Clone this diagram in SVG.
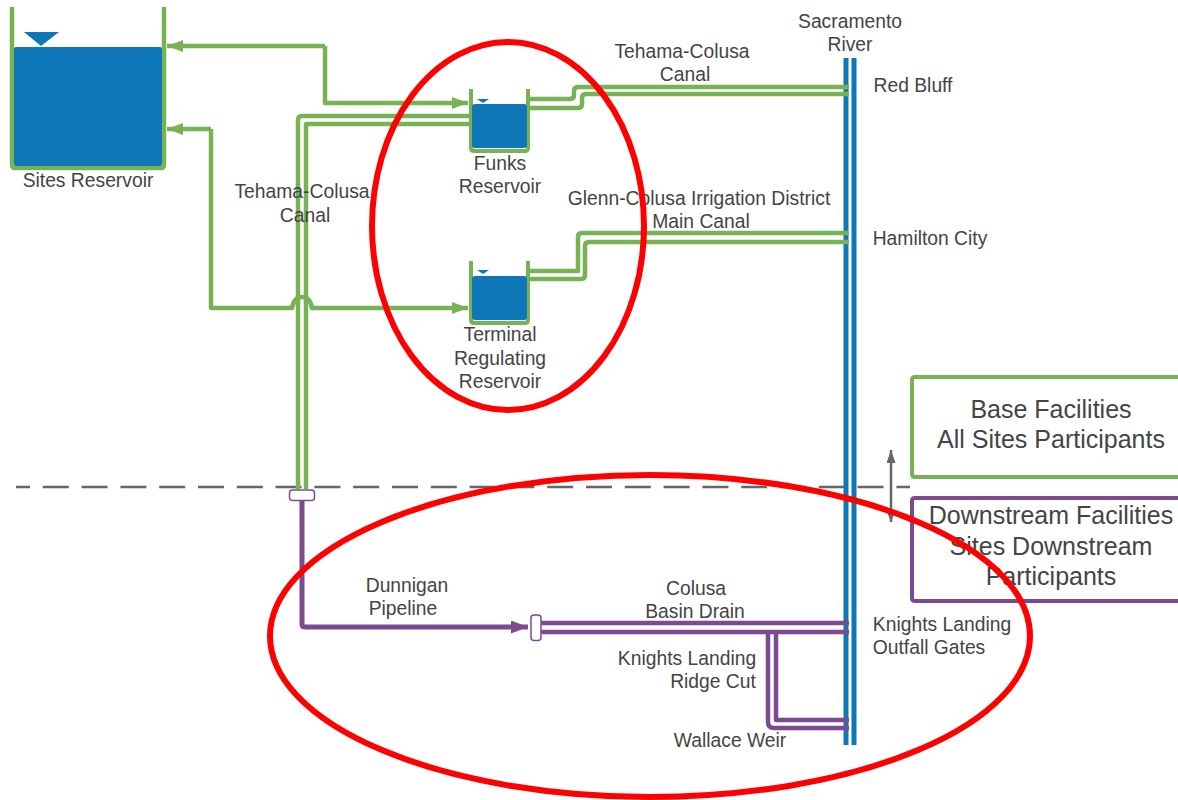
<svg xmlns="http://www.w3.org/2000/svg" width="1178" height="800" viewBox="0 0 1178 800">
<style>
text{font-family:"Liberation Sans",Arial,sans-serif;fill:#444;text-anchor:middle}
.t{font-size:19.300px}
.b{font-size:25px}
.g{fill:none;stroke:#77b255;stroke-width:4.500;stroke-linejoin:round}
.p{fill:none;stroke:#7d4a8f;stroke-width:4.500;stroke-linejoin:round}
.r{fill:none;stroke:#0e77b7;stroke-width:5}
.e{fill:none;stroke:#f00;stroke-width:6}
.w{fill:#0e77b7}
</style>
<defs>
<marker id="ag" markerUnits="userSpaceOnUse" markerWidth="16" markerHeight="12" refX="16" refY="6" orient="auto"><path d="M0 0L16 6L0 12z" fill="#77b255"/></marker>
<marker id="ap" markerUnits="userSpaceOnUse" markerWidth="17" markerHeight="13" refX="17" refY="6.500" orient="auto"><path d="M0 0L17 6.500L0 13z" fill="#7d4a8f"/></marker>
<marker id="ak" markerUnits="userSpaceOnUse" markerWidth="13" markerHeight="9" refX="13" refY="4.500" orient="auto"><path d="M0 0L13 4.500L0 9z" fill="#666"/></marker>
</defs>
<g id="divider"><path d="M16 487H910" fill="none" stroke="#666" stroke-width="2.500" stroke-dasharray="26 12.800" stroke-dashoffset="12"/></g>
<g id="river"><path class="r" d="M846 58V745M854 58V745"/><text class="t" x="850" y="28">Sacramento</text><text class="t" x="850" y="51">River</text></g>
<g id="connectors">
<path class="g" d="M325 46H167" marker-end="url(#ag)"/>
<path class="g" d="M325 46V103H468" marker-end="url(#ag)"/>
<path class="g" d="M211 129H167" marker-end="url(#ag)"/>
<path class="g" d="M211 129V308H292Q294 297 302 297Q310 297 312 308H468" marker-end="url(#ag)"/>
<path class="g" d="M298 489V120Q298 116 302 116H470M306 489V124H470"/>
<path class="g" d="M530 99H570Q574 99 574 95V91Q574 87 578 87H849M530 108H578Q582 108 582 104V98Q582 94 586 94H849"/>
<path class="g" d="M530 271H578V237Q578 233 582 233H849M530 279H581Q585 279 585 275V246Q585 242 589 242H849"/>
<path class="p" d="M302 500V624Q302 627 305 627H528" style="stroke-width:5" marker-end="url(#ap)"/>
<path class="p" d="M541 623H849M541 632H849"/>
<path class="p" d="M768 630V722Q768 728 774 728H849M776 630V720H849"/>
<path d="M891 522V450" fill="none" stroke="#666" stroke-width="2.500" marker-end="url(#ak)"/>
<path d="M887 512L891 522L895 512z" fill="#666"/>
</g>
<g id="sites-reservoir">
<path class="g" d="M12 7V165Q12 168 15 168H161Q164 168 164 165V7"/>
<rect class="w" x="14" y="47" width="148" height="119" rx="2"/>
<path class="w" d="M24 32H59L41 46z"/>
<text class="t" x="88" y="187">Sites Reservoir</text>
</g>
<g id="funks-reservoir">
<path class="g" d="M471 89V148Q471 151 474 151H525Q528 151 528 148V89" style="stroke-width:4"/>
<rect class="w" x="472" y="104" width="55" height="44" rx="3"/>
<path class="w" d="M477 99H489L483 103z"/>
<text class="t" x="500" y="170">Funks</text><text class="t" x="500" y="193">Reservoir</text>
</g>
<g id="terminal-reservoir">
<path class="g" d="M471 261V320Q471 323 474 323H525Q528 323 528 320V261" style="stroke-width:4"/>
<rect class="w" x="472" y="276" width="55" height="44" rx="3"/>
<path class="w" d="M477 270H489L483 274z"/>
<text class="t" x="500" y="341">Terminal</text><text class="t" x="500" y="365">Regulating</text><text class="t" x="500" y="388">Reservoir</text>
</g>
<g id="junction-1"><rect x="289.500" y="490" width="25" height="10.500" rx="3" fill="#fff" stroke="#7d4a8f" stroke-width="1.500"/></g>
<g id="junction-2"><rect x="531" y="615" width="10" height="25.500" rx="3" fill="#fff" stroke="#7d4a8f" stroke-width="1.500"/></g>
<g id="labels">
<text class="t" x="302" y="198">Tehama-Colusa</text><text class="t" x="305" y="222">Canal</text>
<text class="t" x="682" y="58">Tehama-Colusa</text><text class="t" x="685" y="81">Canal</text>
<text class="t" x="699" y="205">Glenn-Colusa Irrigation District</text><text class="t" x="701" y="228">Main Canal</text>
<text class="t" x="913" y="92">Red Bluff</text>
<text class="t" x="930" y="245">Hamilton City</text>
<text class="t" x="407" y="592">Dunnigan</text><text class="t" x="403" y="615">Pipeline</text>
<text class="t" x="696" y="595">Colusa</text><text class="t" x="695" y="618">Basin Drain</text>
<text class="t" x="687" y="665">Knights Landing</text><text class="t" x="713" y="688">Ridge Cut</text>
<text class="t" x="730" y="747">Wallace Weir</text>
<text class="t" x="942" y="631">Knights Landing</text><text class="t" x="929" y="654">Outfall Gates</text>
</g>
<g id="legend-base">
<path d="M1178 377H915Q912 377 912 380V474Q912 477 915 477H1178" fill="none" stroke="#77b255" stroke-width="4"/>
<text class="b" x="1051" y="418">Base Facilities</text><text class="b" x="1051" y="448">All Sites Participants</text>
</g>
<g id="legend-downstream">
<path d="M1178 498H915Q912 498 912 501V598Q912 601 915 601H1178" fill="none" stroke="#7d4a8f" stroke-width="4"/>
<text class="b" x="1051" y="524">Downstream Facilities</text><text class="b" x="1051" y="555">Sites Downstream</text><text class="b" x="1051" y="585">Participants</text>
</g>
<g id="highlights">
<ellipse class="e" cx="508" cy="226" rx="136" ry="184"/>
<ellipse class="e" cx="650" cy="636" rx="380" ry="161"/>
</g>
</svg>
